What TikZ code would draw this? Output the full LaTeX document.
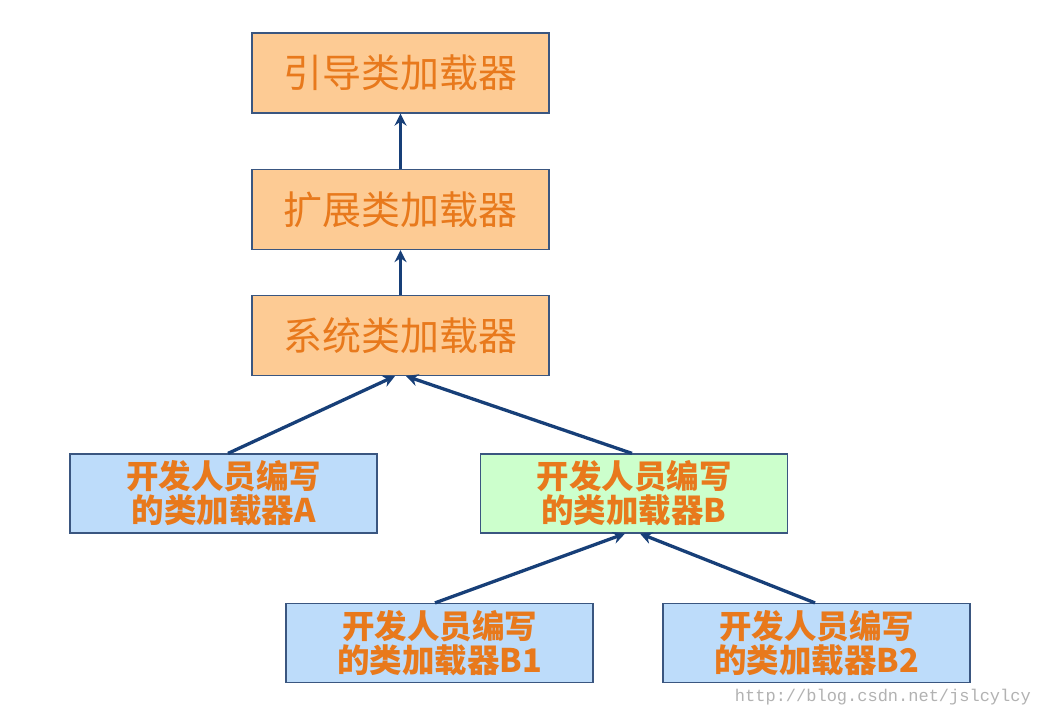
\documentclass[tikz,border=0pt]{standalone}
\usepackage{fontspec}
\newfontfamily\cjk{Noto Sans CJK SC}
\setmonofont{Liberation Mono}
\usetikzlibrary{arrows.meta}
\definecolor{orfill}{HTML}{FDCB94}
\definecolor{blfill}{HTML}{BDDCFA}
\definecolor{grfill}{HTML}{CCFFCC}
\definecolor{txt}{HTML}{E8791C}
\definecolor{edge}{HTML}{3A5680}
\definecolor{arr}{HTML}{173F78}
\tikzset{
  x=1pt, y=-1pt,
  topbox/.style={draw=edge, line width=1.2pt, fill=orfill, minimum width=297pt, minimum height=80pt, inner sep=0pt, text=txt, font=\cjk\fontsize{39}{44}\selectfont},
  lowbox/.style={draw=edge, line width=1.2pt, minimum width=307pt, minimum height=79pt, inner sep=0pt, text=txt, align=center, font=\cjk\bfseries\fontsize{32.5}{34}\selectfont},
  link/.style={draw=arr, line width=3.3pt, -{Stealth[length=12pt,width=12pt]}}
}
\begin{document}
\begin{tikzpicture}
\useasboundingbox[fill=white] (0,0) rectangle (1042,718);
\node[topbox] (boot) at (400.5,73) {引导类加载器};
\node[topbox] (ext) at (400.5,209.5) {扩展类加载器};
\node[topbox] (sys) at (400.5,335.5) {系统类加载器};
\node[lowbox, fill=blfill] (a) at (223.5,493.5) {开发人员编写\\的类加载器A};
\node[lowbox, fill=grfill] (b) at (634,493.5) {开发人员编写\\的类加载器B};
\node[lowbox, fill=blfill] (b1) at (439.5,643) {开发人员编写\\的类加载器B1};
\node[lowbox, fill=blfill] (b2) at (816.5,643) {开发人员编写\\的类加载器B2};
\node[anchor=east, text=black!30, font=\ttfamily\fontsize{17}{20}\selectfont, inner sep=0pt] (wm) at (1031,697) {http://blog.csdn.net/jslcylcy};
\draw[link] (ext.north) -- (boot.south);
\draw[link] (sys.north) -- (ext.south);
\draw[link] (a.north -| 228,0) -- (sys.south -| 395,0);
\draw[link] (b.north -| 632,0) -- (sys.south -| 406,0);
\draw[link] (b1.north -| 435,0) -- (b.south -| 625,0);
\draw[link] (b2.north -| 815,0) -- (b.south -| 640,0);
\end{tikzpicture}
\end{document}
